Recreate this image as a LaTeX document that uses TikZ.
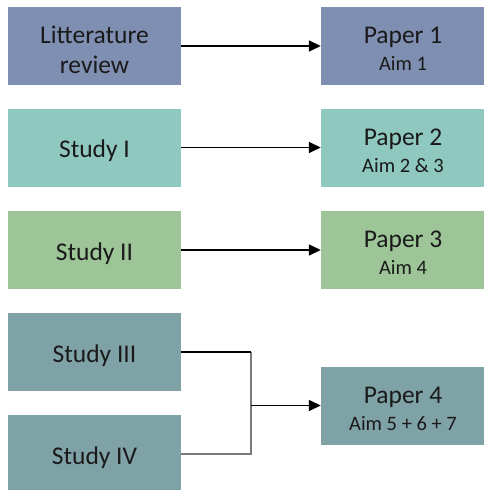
\documentclass[tikz,border=0pt]{standalone}
\usepackage{fontspec}
\setmainfont{Carlito}
\usetikzlibrary{arrows.meta}
\definecolor{cblue}{HTML}{7F8FB1}
\definecolor{cteal}{HTML}{8EC8BE}
\definecolor{cgreen}{HTML}{9DC598}
\definecolor{cgrey}{HTML}{7FA2A7}
\definecolor{txt}{HTML}{1A1A1A}
\definecolor{lgrey}{HTML}{7A7A7A}
\tikzset{
  lbox/.style={draw=none, minimum width=173pt, minimum height=78pt, inner sep=0pt},
  rbox/.style={draw=none, minimum width=164pt, minimum height=78pt, inner sep=0pt},
  ltxt/.style={inner sep=0pt, align=center, text=txt, font=\fontsize{25.5}{30}\selectfont, yshift=-3.5pt},
  rtxt/.style={inner sep=0pt, align=center, text=txt, font=\fontsize{25.5}{27}\selectfont, yshift=-3pt},
  conn/.style={black, line width=1.5pt},
  arr/.style={conn, -{Triangle[length=12pt,width=11pt]}},
  gline/.style={color=lgrey, line width=2.6pt}
}
\newcommand{\aimtxt}[1]{{\fontsize{20.5}{27}\selectfont #1}}
\begin{document}
\begin{tikzpicture}[x=1pt,y=-1pt]
\useasboundingbox (0,0) rectangle (484,490);
\node[lbox, fill=cblue] (s1) at (94.5,46) {};
\node[lbox, fill=cteal] (s2) at (94.5,147.5) {};
\node[lbox, fill=cgreen] (s3) at (94.5,250) {};
\node[lbox, fill=cgrey] (s4) at (94.5,352) {};
\node[lbox, fill=cgrey] (s5) at (94.5,454) {};
\node[rbox, fill=cblue] (p1) at (403,46) {};
\node[rbox, fill=cteal] (p2) at (403,147.5) {};
\node[rbox, fill=cgreen] (p3) at (403,250) {};
\node[rbox, fill=cgrey] (p4) at (403,405.5) {};
\node[ltxt] (s1t) at (s1) {Litterature\\review};
\node[ltxt] (s2t) at (s2) {Study I};
\node[ltxt] (s3t) at (s3) {Study II};
\node[ltxt] (s4t) at (s4) {Study III};
\node[ltxt] (s5t) at (s5) {Study IV};
\node[rtxt] (p1t) at (p1) {Paper 1\\\aimtxt{Aim 1}};
\node[rtxt] (p2t) at (p2) {Paper 2\\\aimtxt{Aim 2 \& 3}};
\node[rtxt] (p3t) at (p3) {Paper 3\\\aimtxt{Aim 4}};
\node[rtxt] (p4t) at (p4) {Paper 4\\\aimtxt{Aim 5 + 6 + 7}};
\coordinate (j) at (251,405.5);
\coordinate (jt) at (251,352);
\draw[arr] (s1.east) -- (p1.west);
\draw[arr] (s2.east) -- (p2.west);
\draw[arr] (s3.east) -- (p3.west);
\draw[gline] (s5.east) -| (jt);
\draw[conn] (s4.east) -- (jt);
\draw[arr] (j) -- (p4.west);
\end{tikzpicture}
\end{document}
